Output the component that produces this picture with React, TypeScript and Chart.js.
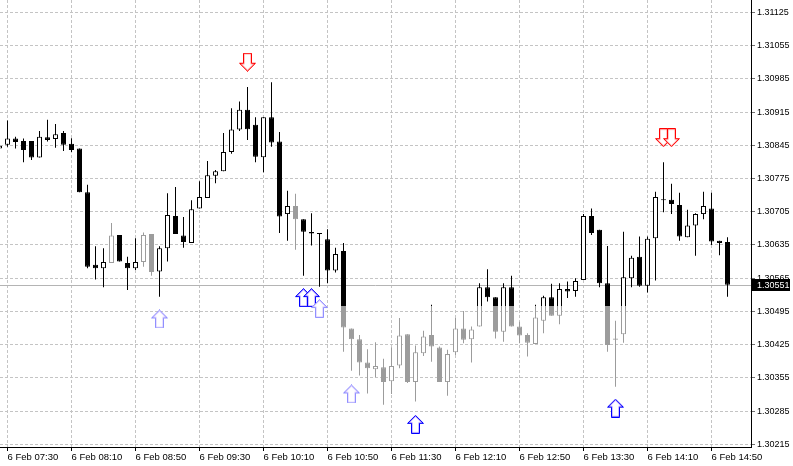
import React, { useEffect, useRef } from 'react';
import { Chart, registerables } from 'chart.js';

Chart.register(...registerables);

// candle index of the first array entry (5-minute bars, index 0 = 6 Feb 07:30)
const FIRST_INDEX = -1;

const opens = [
  1.30838, 1.30846, 1.30859, 1.30854, 1.30854, 1.30819, 1.30862, 1.30858, 1.30871, 1.30848,
  1.30838, 1.30746, 1.30593, 1.30586, 1.30597, 1.30656, 1.30597, 1.30586, 1.30599, 1.30658,
  1.30579, 1.30628, 1.30696, 1.30655, 1.30639, 1.30712, 1.30734, 1.30781, 1.30790, 1.30831,
  1.30878, 1.30920, 1.30888, 1.30820, 1.30904, 1.30853, 1.30700, 1.30717, 1.30689, 1.30662,
  1.30660, 1.30647, 1.30581, 1.30622, 1.30459, 1.30436, 1.30387, 1.30373, 1.30377, 1.30348,
  1.30381, 1.30447, 1.30346, 1.30407, 1.30445, 1.30419, 1.30346, 1.30409, 1.30459, 1.30436,
  1.30463, 1.30546, 1.30525, 1.30452, 1.30546, 1.30463, 1.30445, 1.30426, 1.30475, 1.30525,
  1.30486, 1.30542, 1.30538, 1.30561, 1.30696, 1.30667, 1.30554, 1.30435, 1.30447, 1.30565,
  1.30610, 1.30549, 1.30649, 1.30731, 1.30730, 1.30719, 1.30651, 1.30676, 1.30700, 1.30712,
  1.30644, 1.30641,
];
const highs = [
  1.30856, 1.30897, 1.30863, 1.30859, 1.30854, 1.30875, 1.30899, 1.30890, 1.30875, 1.30860,
  1.30838, 1.30762, 1.30632, 1.30628, 1.30681, 1.30656, 1.30610, 1.30649, 1.30661, 1.30658,
  1.30632, 1.30744, 1.30757, 1.30694, 1.30729, 1.30769, 1.30812, 1.30793, 1.30871, 1.30923,
  1.30937, 1.30968, 1.30904, 1.30904, 1.30978, 1.30873, 1.30749, 1.30743, 1.30689, 1.30702,
  1.30660, 1.30668, 1.30629, 1.30639, 1.30459, 1.30445, 1.30415, 1.30430, 1.30395, 1.30419,
  1.30481, 1.30447, 1.30423, 1.30454, 1.30509, 1.30421, 1.30414, 1.30481, 1.30496, 1.30463,
  1.30554, 1.30584, 1.30525, 1.30554, 1.30570, 1.30473, 1.30449, 1.30509, 1.30528, 1.30553,
  1.30554, 1.30558, 1.30565, 1.30700, 1.30712, 1.30667, 1.30633, 1.30475, 1.30663, 1.30612,
  1.30653, 1.30653, 1.30747, 1.30809, 1.30764, 1.30745, 1.30709, 1.30702, 1.30747, 1.30745,
  1.30644, 1.30651,
];
const lows = [
  1.30831, 1.30842, 1.30838, 1.30809, 1.30814, 1.30819, 1.30853, 1.30840, 1.30833, 1.30831,
  1.30746, 1.30586, 1.30562, 1.30546, 1.30597, 1.30600, 1.30540, 1.30582, 1.30589, 1.30570,
  1.30526, 1.30600, 1.30658, 1.30629, 1.30639, 1.30712, 1.30734, 1.30765, 1.30790, 1.30827,
  1.30875, 1.30856, 1.30809, 1.30788, 1.30842, 1.30660, 1.30644, 1.30625, 1.30570, 1.30634,
  1.30547, 1.30554, 1.30577, 1.30410, 1.30370, 1.30360, 1.30322, 1.30356, 1.30298, 1.30321,
  1.30375, 1.30344, 1.30305, 1.30401, 1.30389, 1.30346, 1.30317, 1.30403, 1.30428, 1.30387,
  1.30463, 1.30516, 1.30438, 1.30431, 1.30463, 1.30428, 1.30400, 1.30426, 1.30449, 1.30486,
  1.30468, 1.30523, 1.30526, 1.30561, 1.30656, 1.30546, 1.30410, 1.30336, 1.30429, 1.30546,
  1.30547, 1.30535, 1.30560, 1.30704, 1.30700, 1.30644, 1.30651, 1.30612, 1.30689, 1.30635,
  1.30613, 1.30526,
];
const closes = [
  1.30844, 1.30859, 1.30852, 1.30835, 1.30819, 1.30863, 1.30856, 1.30868, 1.30846, 1.30835,
  1.30746, 1.30589, 1.30586, 1.30599, 1.30655, 1.30600, 1.30586, 1.30599, 1.30656, 1.30578,
  1.30628, 1.30698, 1.30658, 1.30641, 1.30710, 1.30736, 1.30782, 1.30790, 1.30831, 1.30878,
  1.30920, 1.30879, 1.30821, 1.30904, 1.30851, 1.30695, 1.30717, 1.30689, 1.30663, 1.30659,
  1.30658, 1.30581, 1.30616, 1.30461, 1.30436, 1.30387, 1.30375, 1.30380, 1.30346, 1.30380,
  1.30444, 1.30346, 1.30409, 1.30442, 1.30421, 1.30346, 1.30405, 1.30459, 1.30435, 1.30457,
  1.30546, 1.30525, 1.30452, 1.30546, 1.30463, 1.30444, 1.30429, 1.30482, 1.30525, 1.30486,
  1.30542, 1.30537, 1.30559, 1.30696, 1.30660, 1.30554, 1.30424, 1.30438, 1.30567, 1.30608,
  1.30549, 1.30648, 1.30736, 1.30729, 1.30721, 1.30653, 1.30676, 1.30700, 1.30717, 1.30642,
  1.30639, 1.30551,
];

const X_TICK_INDEX = [0, 8, 16, 24, 32, 40, 48, 56, 64, 72, 80, 88];
const X_TICK_LABELS = [
  '6 Feb 07:30', '6 Feb 08:10', '6 Feb 08:50', '6 Feb 09:30', '6 Feb 10:10', '6 Feb 10:50',
  '6 Feb 11:30', '6 Feb 12:10', '6 Feb 12:50', '6 Feb 13:30', '6 Feb 14:10', '6 Feb 14:50',
];
const Y_TICKS = [
  1.30215, 1.30285, 1.30355, 1.30425, 1.30495, 1.30565, 1.30635,
  1.30705, 1.30775, 1.30845, 1.30915, 1.30985, 1.31055, 1.31125,
];

const UP_ARROW_INDEX = [19, 37, 38, 39, 43, 51, 76];
const UP_ARROW_PRICE = [1.30479, 1.30524, 1.30524, 1.30501, 1.30321, 1.30257, 1.30291];
const DOWN_ARROW_INDEX = [30, 82, 83];
const DOWN_ARROW_PRICE = [1.31020, 1.30861, 1.30861];

// ---- style configuration ----
const Y_MIN = 1.302092;
const Y_MAX = 1.311511;
const X_MIN = -0.9375;
const X_MAX = 92.9375;
const FADED_CANDLES = new Set([13, 17, 18, 36]);
const WATERMARK_FROM = 42;
const WATERMARK_TO = 77;
const WATERMARK_PRICE = 1.30506;
const FADED_ARROWS = new Set([19, 39, 43]);
const DARK = '#000000';
const FADED = '#9c9c9c';
const FONT = "'Liberation Sans', Arial, sans-serif";

function makeArrow(up: boolean, stroke: string, inner: string): HTMLCanvasElement {
  const c = document.createElement('canvas');
  c.width = 17;
  c.height = 19;
  const g = c.getContext('2d')!;
  const pts = [
    [8.5, 0.5], [16.5, 8.5], [12.5, 8.5], [12.5, 18.5], [4.5, 18.5], [4.5, 8.5], [0.5, 8.5],
  ];
  const P = up ? pts : pts.map(([x, y]) => [x, 19 - y]);
  const path = () => {
    g.beginPath();
    P.forEach(([x, y], k) => (k ? g.lineTo(x, y) : g.moveTo(x, y)));
    g.closePath();
  };
  path();
  g.fillStyle = '#ffffff';
  g.fill();
  g.lineWidth = 2;
  g.strokeStyle = inner;
  g.save();
  g.clip();
  path();
  g.stroke();
  g.restore();
  path();
  g.lineWidth = 1;
  g.strokeStyle = stroke;
  g.stroke();
  return c;
}

export default function App() {
  const ref = useRef<HTMLCanvasElement | null>(null);

  useEffect(() => {
    document.body.style.margin = '0';
    if (!ref.current) return;

    const upBlue = makeArrow(true, '#0000ff', '#a080ff');
    const upFaded = makeArrow(true, '#9090ff', '#d0c0ff');
    const downRed = makeArrow(false, '#ff0000', '#ff9090');

    const shade = (ctx: any, dark: string, faded: string) => {
      const i = ctx.dataIndex + FIRST_INDEX;
      if (FADED_CANDLES.has(i)) return faded;
      if (i >= WATERMARK_FROM && i <= WATERMARK_TO) {
        const chart = ctx.chart;
        const area = chart.chartArea;
        const ys = chart.scales.y;
        if (!area || !ys) return dark;
        const py = ys.getPixelForValue(WATERMARK_PRICE);
        const t = Math.min(1, Math.max(0, (py - area.top) / (area.bottom - area.top)));
        const grad = chart.ctx.createLinearGradient(0, area.top, 0, area.bottom);
        grad.addColorStop(0, dark);
        grad.addColorStop(t, dark);
        grad.addColorStop(t, faded);
        grad.addColorStop(1, faded);
        return grad;
      }
      return dark;
    };

    const currentPrice = closes[closes.length - 1];

    const pricePlugin = {
      id: 'currentPrice',
      beforeDatasetsDraw(chart: any) {
        const { ctx, chartArea, scales } = chart;
        const py = Math.round(scales.y.getPixelForValue(currentPrice)) + 0.5;
        ctx.save();
        ctx.strokeStyle = '#b4b4b4';
        ctx.lineWidth = 1;
        ctx.beginPath();
        ctx.moveTo(chartArea.left, py);
        ctx.lineTo(chartArea.right, py);
        ctx.stroke();
        ctx.restore();
      },
      afterDraw(chart: any) {
        const { ctx, chartArea, scales } = chart;
        const py = Math.round(scales.y.getPixelForValue(currentPrice));
        ctx.save();
        ctx.fillStyle = '#000000';
        ctx.fillRect(chartArea.right + 1, py - 6, 38, 12);
        ctx.fillStyle = '#ffffff';
        ctx.font = `9px ${FONT}`;
        ctx.textBaseline = 'middle';
        ctx.textAlign = 'left';
        ctx.fillText(currentPrice.toFixed(5), chartArea.right + 6, py + 0.5);
        ctx.restore();
      },
    };

    const chart = new Chart(ref.current, {
      type: 'bar',
      data: {
        datasets: [
          {
            type: 'scatter',
            label: 'up',
            data: UP_ARROW_INDEX.map((x, k) => ({ x, y: UP_ARROW_PRICE[k] })),
            pointStyle: (ctx: any) =>
              FADED_ARROWS.has(UP_ARROW_INDEX[ctx.dataIndex]) ? upFaded : upBlue,
            pointRadius: 9,
            clip: false,
            order: 0,
          } as any,
          {
            type: 'scatter',
            label: 'down',
            data: DOWN_ARROW_INDEX.map((x, k) => ({ x, y: DOWN_ARROW_PRICE[k] })),
            pointStyle: downRed,
            pointRadius: 9,
            clip: false,
            order: 0,
          } as any,
          {
            type: 'bar',
            label: 'body',
            data: opens.map((o, k) => ({ x: k + FIRST_INDEX, y: [o, closes[k]] })),
            barThickness: 5,
            borderWidth: 1,
            borderSkipped: false,
            minBarLength: 1,
            inflateAmount: 0,
            grouped: false,
            backgroundColor: (ctx: any) =>
              closes[ctx.dataIndex] > opens[ctx.dataIndex] ? '#ffffff' : shade(ctx, DARK, FADED),
            borderColor: (ctx: any) => shade(ctx, DARK, FADED),
            order: 1,
          } as any,
          {
            type: 'bar',
            label: 'wick',
            data: lows.map((l, k) => ({ x: k + FIRST_INDEX, y: [l, highs[k]] })),
            barThickness: 1,
            borderWidth: 0,
            inflateAmount: 0,
            grouped: false,
            backgroundColor: (ctx: any) => shade(ctx, DARK, FADED),
            order: 2,
          } as any,
        ],
      },
      options: {
        animation: false,
        responsive: false,
        devicePixelRatio: 1,
        layout: { padding: 0, autoPadding: false },
        events: [],
        plugins: { legend: { display: false }, tooltip: { enabled: false } },
        scales: {
          x: {
            type: 'linear',
            min: X_MIN,
            max: X_MAX,
            offset: false,
            afterBuildTicks: (s: any) => {
              s.ticks = X_TICK_INDEX.map((v) => ({ value: v }));
            },
            afterFit: (s: any) => {
              s.height = 19;
              s.paddingLeft = 0;
              s.paddingRight = 0;
            },
            grid: {
              color: '#c4c4c4',
              offset: false,
              drawTicks: true,
              tickLength: 4,
              tickColor: '#000000',
              tickBorderDash: [],
            },
            border: { display: true, color: '#000000', width: 1, dash: [3, 2] },
            ticks: {
              autoSkip: false,
              maxRotation: 0,
              minRotation: 0,
              align: 'start',
              padding: 1,
              color: '#000000',
              font: { family: FONT, size: 9.5 },
              callback: (_v: any, idx: number) => X_TICK_LABELS[idx],
            },
          } as any,
          y: {
            type: 'linear',
            position: 'right',
            min: Y_MIN,
            max: Y_MAX,
            afterBuildTicks: (s: any) => {
              s.ticks = Y_TICKS.map((v) => ({ value: v }));
            },
            afterFit: (s: any) => {
              s.width = 42;
              s.paddingTop = 0;
              s.paddingBottom = 0;
            },
            grid: {
              color: '#c4c4c4',
              drawTicks: true,
              tickLength: 4,
              tickColor: '#707070',
              tickBorderDash: [],
            },
            border: { display: true, color: '#000000', width: 1, dash: [3, 2] },
            ticks: {
              padding: 2,
              color: '#000000',
              font: { family: FONT, size: 9 },
              callback: (v: any) => Number(v).toFixed(5),
            },
          } as any,
        },
      },
      plugins: [pricePlugin],
    });

    return () => chart.destroy();
  }, []);

  return (
    <div style={{ width: 793, height: 466, background: '#ffffff' }}>
      <canvas ref={ref} width={793} height={466} style={{ display: 'block' }} />
    </div>
  );
}
